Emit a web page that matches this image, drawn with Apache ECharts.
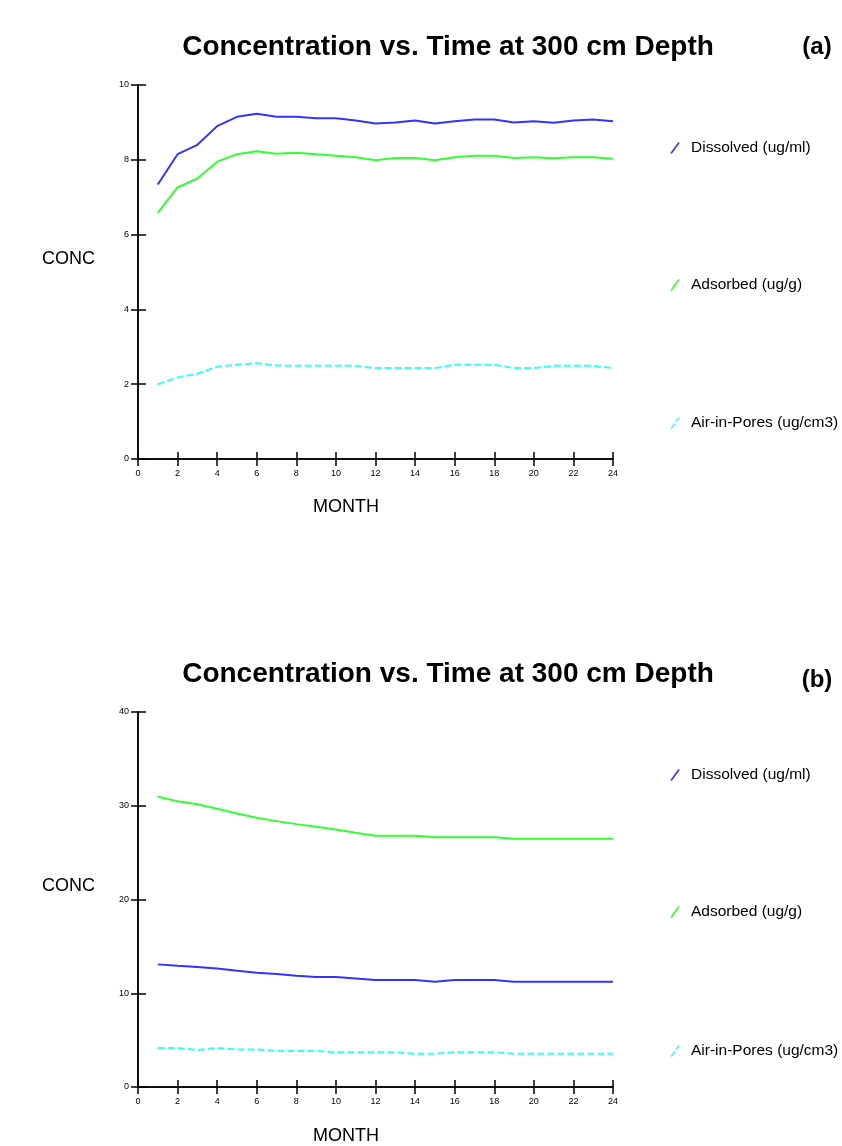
<!DOCTYPE html>
<html>
<head>
<meta charset="utf-8">
<script src="https://cdn.jsdelivr.net/npm/echarts@6/dist/echarts.min.js"></script>
<style>
html,body{margin:0;padding:0;background:#fff;}
#chart{width:842px;height:1146px;}
</style>
</head>
<body>
<div id="chart"></div>
<script>
// ---- Data ----
const months = [1,2,3,4,5,6,7,8,9,10,11,12,13,14,15,16,17,18,19,20,21,22,23,24];
const xTickLabels = ['0','2','4','6','8','10','12','14','16','18','20','22','24'];

// Chart (a)
const dissolvedA = [7.34,8.15,8.40,8.90,9.15,9.23,9.15,9.15,9.11,9.11,9.05,8.97,9.00,9.05,8.97,9.03,9.08,9.08,9.00,9.03,8.99,9.05,9.08,9.03];
const adsorbedA  = [6.58,7.26,7.50,7.95,8.15,8.23,8.16,8.19,8.15,8.11,8.07,7.99,8.05,8.05,7.99,8.07,8.11,8.11,8.05,8.07,8.04,8.07,8.07,8.03];
const airA       = [2.00,2.18,2.28,2.47,2.52,2.56,2.50,2.49,2.49,2.49,2.49,2.43,2.43,2.43,2.43,2.52,2.52,2.52,2.43,2.43,2.49,2.49,2.49,2.43];

// Chart (b)
const dissolvedB = [13.08,12.93,12.79,12.65,12.40,12.19,12.05,11.87,11.73,11.73,11.58,11.41,11.41,11.41,11.23,11.41,11.41,11.41,11.23,11.23,11.23,11.23,11.23,11.23];
const adsorbedB  = [30.95,30.49,30.17,29.67,29.18,28.71,28.36,28.04,27.75,27.47,27.11,26.79,26.79,26.79,26.65,26.65,26.65,26.65,26.47,26.47,26.47,26.47,26.47,26.47];
const airB       = [4.16,4.16,3.94,4.16,4.00,4.00,3.84,3.84,3.84,3.70,3.70,3.70,3.70,3.55,3.55,3.70,3.70,3.70,3.55,3.55,3.55,3.55,3.55,3.55];

const seriesNames = ['Dissolved (ug/ml)','Adsorbed (ug/g)','Air-in-Pores (ug/cm3)'];
const titleText = 'Concentration vs. Time at 300 cm Depth';

// ---- Styles ----
const BLUE = '#3333ff', GREEN = '#33ff33', CYAN = '#33ffff';
const FONT = '"Liberation Sans", Arial, sans-serif';
const pair = arr => months.map((m,i)=>[m, arr[i]]);

function xAxes(gridIndex){
  const common = {
    type:'value', gridIndex, min:0, max:24, interval:2, position:'bottom',
    splitLine:{show:false},
    axisLine:{show:true, onZero:false, lineStyle:{color:'#000', width:1.5}}
  };
  return [
    Object.assign({}, common, {
      axisTick:{show:true, inside:false, length:7, lineStyle:{color:'#000', width:1.5}},
      axisLabel:{show:true, margin:10, color:'#000', fontSize:9, fontFamily:FONT,
        formatter:(v)=> xTickLabels[Math.round(v/2)] }
    }),
    Object.assign({}, common, {
      axisTick:{show:true, inside:true, length:7, lineStyle:{color:'#000', width:1.5}},
      axisLabel:{show:false}
    })
  ];
}
function yAxes(gridIndex, max, interval){
  const common = {
    type:'value', gridIndex, min:0, max, interval, position:'left',
    splitLine:{show:false},
    axisLine:{show:true, onZero:false, lineStyle:{color:'#000', width:1.5}}
  };
  return [
    Object.assign({}, common, {
      axisTick:{show:true, inside:false, length:7, lineStyle:{color:'#000', width:1.5}},
      axisLabel:{show:true, margin:9, color:'#000', fontSize:9, fontFamily:FONT}
    }),
    Object.assign({}, common, {
      axisTick:{show:true, inside:true, length:8, lineStyle:{color:'#000', width:1.5}},
      axisLabel:{show:false}
    })
  ];
}

function lineSeries(name, data, color, xi, yi, dashed){
  return {
    type:'line', name, data:pair(data), xAxisIndex:xi, yAxisIndex:yi,
    showSymbol:false, symbol:'none', smooth:false, animation:false,
    lineStyle:{color, width:2, type: dashed ? [7,3] : 'solid'},
    itemStyle:{color}
  };
}

const SOLID_ICON = 'path://M8,0 L10,0 L2,11 L0,11 Z';
const DASH_ICON = 'path://M8,0 L10,0 L7,4 L5,4 Z M4,6 L6,6 L2,11 L0,11 Z';

function legend(name, top, icon){
  return {
    data:[{name, icon}], left:670, top, orient:'vertical',
    itemWidth:10, itemHeight:11, selectedMode:false, padding:0,
    textStyle:{color:'#000', fontSize:15.5, fontFamily:FONT, padding:[0,0,0,6]}
  };
}

function textEl(text, x, y, font, align){
  return { type:'text', x, y, silent:true,
    style:{ text, font, fill:'#000', textAlign: align || 'left', textVerticalAlign:'middle' } };
}

const chart = echarts.init(document.getElementById('chart'), null, {renderer:'canvas'});
chart.setOption({
  backgroundColor:'#ffffff',
  animation:false,
  grid:[
    {left:138, right:229, top:85, bottom:687},
    {left:138, right:229, top:712, bottom:59}
  ],
  xAxis:[...xAxes(0), ...xAxes(1)],
  yAxis:[...yAxes(0,10,2), ...yAxes(1,40,10)],
  legend:[
    legend(seriesNames[0], 140, SOLID_ICON),
    legend(seriesNames[1], 277, SOLID_ICON),
    legend(seriesNames[2], 415, DASH_ICON),
    legend(seriesNames[0], 767, SOLID_ICON),
    legend(seriesNames[1], 904, SOLID_ICON),
    legend(seriesNames[2], 1043, DASH_ICON)
  ],
  series:[
    lineSeries(seriesNames[0], dissolvedA, BLUE, 0, 0, false),
    lineSeries(seriesNames[1], adsorbedA, GREEN, 0, 0, false),
    lineSeries(seriesNames[2], airA, CYAN, 0, 0, true),
    lineSeries(seriesNames[0], dissolvedB, BLUE, 2, 2, false),
    lineSeries(seriesNames[1], adsorbedB, GREEN, 2, 2, false),
    lineSeries(seriesNames[2], airB, CYAN, 2, 2, true)
  ],
  graphic:[
    textEl(titleText, 448, 47, 'bold 28px ' + FONT, 'center'),
    textEl('(a)', 817, 47, 'bold 24px ' + FONT, 'center'),
    textEl('CONC', 42, 259, '18px ' + FONT, 'left'),
    textEl('MONTH', 346, 507, '18px ' + FONT, 'center'),
    textEl(titleText, 448, 674, 'bold 28px ' + FONT, 'center'),
    textEl('(b)', 817, 680, 'bold 24px ' + FONT, 'center'),
    textEl('CONC', 42, 886, '18px ' + FONT, 'left'),
    textEl('MONTH', 346, 1136, '18px ' + FONT, 'center')
  ]
});
</script>
</body>
</html>
